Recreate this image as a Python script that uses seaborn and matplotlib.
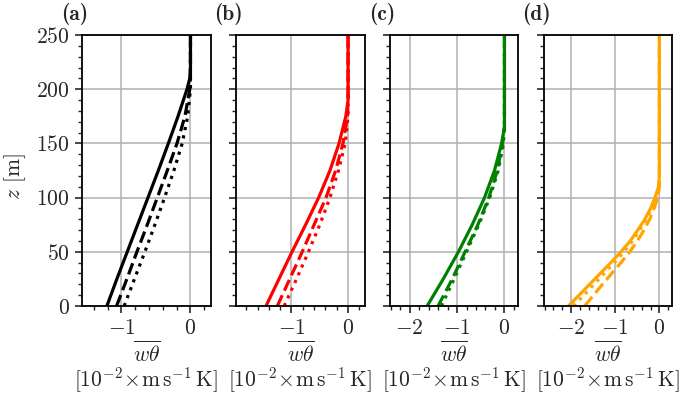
import numpy as np
import pandas as pd
import matplotlib
matplotlib.use("Agg")
import matplotlib.pyplot as plt
import seaborn as sns
from matplotlib.ticker import MultipleLocator

# ---------------- data ----------------
panel_labels = ["(a)", "(b)", "(c)", "(d)"]
colors = ["black", "red", "green", "orange"]
styles = ["solid", "dashed", "dotted"]

z_a = [0, 25, 50, 75, 100, 125, 150, 175, 200, 210, 220, 250]
a_solid = [-1.21, -1.065, -0.915, -0.765, -0.615, -0.465, -0.32, -0.18, -0.05, -0.01, 0.0, 0.0]
a_dashed = [-1.07, -0.92, -0.775, -0.625, -0.48, -0.335, -0.195, -0.08, -0.01, 0.0, 0.0, 0.0]
a_dotted = [-0.96, -0.81, -0.66, -0.515, -0.375, -0.24, -0.12, -0.04, 0.0, 0.0, 0.0, 0.0]

z_b = [0, 25, 50, 75, 100, 125, 150, 175, 190, 250]
b_solid = [-1.45, -1.22, -0.99, -0.75, -0.52, -0.32, -0.16, -0.04, 0.0, 0.0]
b_dashed = [-1.25, -1.03, -0.81, -0.60, -0.39, -0.22, -0.09, -0.01, 0.0, 0.0]
b_dotted = [-1.13, -0.91, -0.70, -0.50, -0.32, -0.17, -0.05, 0.0, 0.0, 0.0]

z_c = [0, 25, 50, 75, 100, 125, 150, 165, 200, 250]
c_solid = [-1.63, -1.29, -0.97, -0.68, -0.42, -0.21, -0.06, 0.0, 0.0, 0.0]
c_dashed = [-1.40, -1.10, -0.83, -0.56, -0.33, -0.15, -0.04, 0.0, 0.0, 0.0]
c_dotted = [-1.33, -1.06, -0.80, -0.54, -0.31, -0.13, -0.02, 0.0, 0.0, 0.0]

z_d = [0, 10, 20, 30, 40, 50, 60, 70, 80, 90, 100, 110, 120, 250]
d_solid = [-2.06, -1.82, -1.58, -1.34, -1.10, -0.87, -0.66, -0.49, -0.33, -0.20, -0.10, -0.02, 0.0, 0.0]
d_dashed = [-1.69, -1.49, -1.29, -1.08, -0.87, -0.67, -0.50, -0.35, -0.22, -0.12, -0.04, 0.0, 0.0, 0.0]
d_dotted = [-1.95, -1.71, -1.48, -1.25, -1.02, -0.80, -0.61, -0.45, -0.30, -0.17, -0.07, -0.01, 0.0, 0.0]

x_left_limits = [-1.57, -1.98, -2.42, -2.62]
x_right_limit = 0.29

xlabel_text = r"$\overline{w\theta}$" + "\n" + r"$[10^{-2}\!\times\!\mathrm{m\,s^{-1}\,K}]$"
ylabel_text = r"$z$ [m]"

panels = [
    (z_a, [a_solid, a_dashed, a_dotted]),
    (z_b, [b_solid, b_dashed, b_dotted]),
    (z_c, [c_solid, c_dashed, c_dotted]),
    (z_d, [d_solid, d_dashed, d_dotted]),
]

# ---------------- style ----------------
sns.set_theme(style="ticks")
FS = 15.5
plt.rcParams.update({
    "font.family": "serif",
    "font.serif": ["cmr10"],
    "mathtext.fontset": "cm",
    "axes.formatter.use_mathtext": True,
    "axes.unicode_minus": True,
    "font.size": FS,
})

fig = plt.figure(figsize=(6.85, 4.08), dpi=100)
W, H = 685.0, 408.0
ax_lefts = [82, 236, 389.7, 543.7]
ax_w = 128.5
ax_top, ax_bot = 35, 306

dash_map = {"solid": "-", "dashed": "--", "dotted": ":"}

axes = []
for i, (zz, series) in enumerate(panels):
    ax = fig.add_axes([ax_lefts[i] / W, 1 - ax_bot / H, ax_w / W, (ax_bot - ax_top) / H])
    axes.append(ax)
    for vals, st in zip(series, styles):
        df = pd.DataFrame({"flux": vals, "z": zz})
        sns.lineplot(data=df, x="flux", y="z", ax=ax, color=colors[i],
                     linestyle=dash_map[st], linewidth=2.3, sort=False,
                     estimator=None, orient="y")
    ax.set_xlim(x_left_limits[i], x_right_limit)
    ax.set_ylim(0, 250)
    ax.xaxis.set_major_locator(MultipleLocator(1))
    ax.xaxis.set_minor_locator(MultipleLocator(0.2))
    ax.yaxis.set_major_locator(MultipleLocator(50))
    ax.yaxis.set_minor_locator(MultipleLocator(10))
    ax.grid(True, which="major", color="#b0b0b0", linewidth=1.1)
    ax.set_axisbelow(True)
    for sp in ax.spines.values():
        sp.set_linewidth(1.3)
        sp.set_color("black")
    ax.tick_params(which="major", direction="out", length=5, width=1.2, labelsize=FS)
    ax.tick_params(axis="x", which="major", pad=4)
    ax.tick_params(axis="y", which="major", pad=4)
    ax.tick_params(which="minor", direction="out", length=3, width=1.0)
    ax.set_xlabel("")
    ax.set_ylabel("")
    if i > 0:
        ax.tick_params(axis="y", labelleft=False)
    ax.text(-0.055, 1.077, panel_labels[i], transform=ax.transAxes,
            ha="center", va="center", fontsize=FS, family="cmb10")
    ax.text(0.5, -0.228, xlabel_text, transform=ax.transAxes,
            ha="center", va="center", multialignment="center",
            linespacing=0.95, fontsize=FS)

fig.text(15 / W, 1 - 177 / H, ylabel_text, rotation=90, ha="center", va="center", fontsize=FS)

fig.savefig("out.png", dpi=100)
